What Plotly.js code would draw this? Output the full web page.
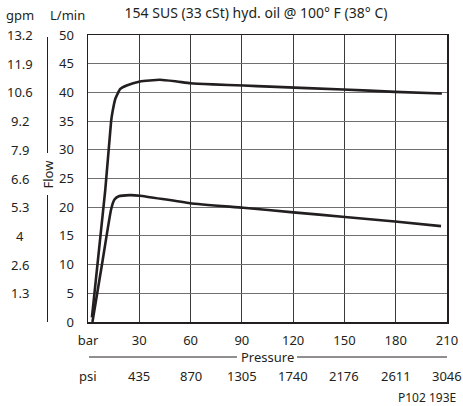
<!DOCTYPE html>
<html>
<head>
<meta charset="utf-8">
<script src="https://cdn.plot.ly/plotly-3.0.1.min.js"></script>
<style>html,body{margin:0;padding:0;background:#fff;}#chart{width:463px;height:406px;}</style>
</head>
<body>
<div id="chart"></div>
<script>
// ---- data ----
const barTicks = [0, 30, 60, 90, 120, 150, 180, 210];
const barLabels = ["bar", "30", "60", "90", "120", "150", "180", "210"];
const psiLabels = ["psi", "435", "870", "1305", "1740", "2176", "2611", "3046"];
const lminTicks = [0, 5, 10, 15, 20, 25, 30, 35, 40, 45, 50];
const gpmLabels = ["", "1.3", "2.6", "4", "5.3", "6.6", "7.9", "9.2", "10.6", "11.9", "13.2"];

const upperPressure = [2.3, 10.1, 13.5, 14.4, 16.0, 18.9, 22.6, 30.4, 42, 52, 60, 73, 91, 106.5, 149.3, 179.6, 207];
const upperFlow     = [0.8, 23.0, 34.9, 36.7, 38.9, 40.6, 41.2, 41.9, 42.2, 41.9, 41.6, 41.4, 41.2, 41.0, 40.5, 40.1, 39.8];

const lowerPressure = [2.6, 8.0, 13.5, 15.4, 18.0, 24.6, 30.4, 59.7, 90.8, 120.1, 150.3, 179.6, 206.5];
const lowerFlow     = [0.0, 9.7, 19.6, 21.3, 21.9, 22.1, 22.0, 20.7, 19.9, 19.1, 18.3, 17.5, 16.7];

const titleText = "154 SUS (33 cSt) hyd. oil @ 100° F (38° C)";
const ink = "#231f20";
const FONT = "Noto Sans, Open Sans, sans-serif";

// ---- geometry helpers (plot area px -> paper fractions) ----
const L = 88, R = 447, T = 35, B = 322;
const px = x => (x - L) / (R - L);
const py = y => (B - y) / (B - T);

const curveStyle = {color: ink, width: 2.6, shape: "spline", smoothing: 0.45};
const traces = [
  {x: upperPressure, y: upperFlow, mode: "lines", line: curveStyle, hoverinfo: "skip", showlegend: false},
  {x: lowerPressure, y: lowerFlow, mode: "lines", line: curveStyle, hoverinfo: "skip", showlegend: false}
];

const annotations = [];
const txt = (text, x, y, xref, yref, opts) => Object.assign({
  text: text, x: x, y: y, xref: xref, yref: yref, showarrow: false,
  xanchor: "center", yanchor: "middle", font: {family: FONT, size: 13, color: ink}
}, opts || {});

annotations.push(txt("gpm", px(20), py(15), "paper", "paper"));
annotations.push(txt("L/min", px(67), py(15), "paper", "paper"));
gpmLabels.forEach((g, i) => { if (g) annotations.push(txt(g, px(20), lminTicks[i], "paper", "y")); });
psiLabels.forEach((p, i) => annotations.push(txt(p, barTicks[i], py(376), "x", "paper")));
annotations.push(txt("Pressure", px(267), py(357), "paper", "paper"));
annotations.push(txt("Flow", px(47.5), py(174), "paper", "paper", {textangle: -90}));
annotations.push(txt("P102 193E", px(458), py(397), "paper", "paper", {xanchor: "right", font: {family: FONT, size: 12, color: ink}}));

const lineSty = {color: ink, width: 1};
const shapes = [
  {type: "line", xref: "paper", yref: "paper", x0: px(89), x1: px(237), y0: py(357), y1: py(357), line: lineSty},
  {type: "line", xref: "paper", yref: "paper", x0: px(297), x1: px(447), y0: py(357), y1: py(357), line: lineSty},
  {type: "line", xref: "paper", yref: "paper", x0: px(47.5), x1: px(47.5), y0: py(37), y1: py(153), line: lineSty},
  {type: "line", xref: "paper", yref: "paper", x0: px(47.5), x1: px(47.5), y0: py(195), y1: py(322), line: lineSty}
];

const layout = {
  width: 463, height: 406,
  margin: {l: L, r: 463 - R, t: T, b: 406 - B},
  paper_bgcolor: "#fff", plot_bgcolor: "#fff",
  font: {family: FONT, size: 13, color: ink},
  title: {text: titleText, x: 256 / 463, xanchor: "center", xref: "container",
          y: 1 - 13 / 406, yanchor: "middle", yref: "container",
          font: {family: FONT, size: 14, color: ink}},
  xaxis: {range: [0, 210], tickvals: barTicks, ticktext: barLabels, showgrid: true,
          gridcolor: "#3a3a3a", gridwidth: 1, zeroline: false, showline: true, mirror: true,
          linecolor: ink, linewidth: 1.5, ticks: "", ticklabelstandoff: 6,
          tickfont: {family: FONT, size: 13, color: ink}, fixedrange: true},
  yaxis: {range: [0, 50], tickvals: lminTicks, showgrid: true,
          gridcolor: "#707070", gridwidth: 1, zeroline: false, showline: true, mirror: true,
          linecolor: ink, linewidth: 1.5, ticks: "", ticklabelstandoff: 10,
          tickfont: {family: FONT, size: 13, color: ink}, fixedrange: true},
  annotations: annotations,
  shapes: shapes
};

Plotly.newPlot("chart", traces, layout, {staticPlot: true, displayModeBar: false});
</script>
</body>
</html>
